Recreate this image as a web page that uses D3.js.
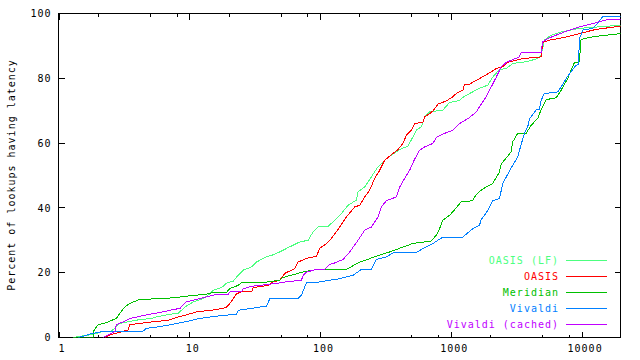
<!DOCTYPE html>
<html><head><meta charset="utf-8">
<script src="https://cdn.jsdelivr.net/npm/d3@7/dist/d3.min.js"></script>
<style>
html,body{margin:0;padding:0;background:#fff;}
svg text{font-family:"DejaVu Sans Mono","Liberation Mono",monospace;font-size:10px;letter-spacing:1px;}
</style></head><body>
<svg id="chart" width="640" height="360"></svg>
<script>
// ---------- data (latency, percent of lookups) ----------
const seriesNames = ["OASIS (LF)", "OASIS", "Meridian", "Vivaldi", "Vivaldi (cached)"];
const seriesColors = ["#4cff7f", "#ff0000", "#00c000", "#0080ff", "#c000ff"];

const oasisLF = [[1.295,0],[1.544,0.5],[1.786,0.9],[2.13,1.7],[2.54,2.0],[2.77,3.3],[2.94,4.3],[3.83,5.3],[5.13,5.9],[5.64,6.4],[7.12,7.2],[8.2,7.4],[9.27,9.4],[10.73,11.0],[12.79,12.0],[13.96,13.1],[15.25,14.6],[17.68,15.4],[19.3,16.8],[21.67,17.4],[23.66,19.2],[25.84,20.8],[29.95,21.8],[32.7,23.3],[37.8,24.7],[45.1,25.7],[50.7,26.7],[58.7,28.0],[70,29.5],[81,30.0],[88.4,32.6],[96.5,34.1],[115.1,34.3],[129.5,36.2],[145.7,38.3],[163.6,40.8],[189.7,42.4],[195.1,44.9],[219.4,46.5],[246.9,49.6],[277.2,52.7],[321.3,55.2],[371.7,57.0],[418.2,58.3],[469.6,59.0],[512.7,61.9],[544.4,64.0],[594.3,65.0],[629.8,68.1],[687.8,69.6],[868.7,70.2],[977.4,72.5],[1165,73.2],[1235,74.1],[1389,75.3],[1656,76.9],[1916,77.9],[2092,80.4],[2354,82.7],[2648,83.0],[2974,84.6],[3763,85.1],[4615,86.1],[4898,87.0],[5191,91.8],[5839,93.3],[6962,94.3],[9603,95.4],[13650,95.9],[20000,96.4]];

const oasis = [[2.26,0],[2.47,0.8],[2.7,1.2],[3.4,2.3],[3.51,3.9],[4.06,4.3],[5.13,4.8],[6.88,5.3],[8.0,6.2],[9.3,6.9],[11.39,7.9],[15.25,8.5],[18.18,9.0],[19.3,9.4],[20.45,10.5],[21.67,12.0],[23.0,13.5],[25.1,14.1],[29.95,14.1],[30.8,15.4],[40.1,16.1],[42.6,17.0],[49.2,17.7],[53.8,19.8],[64.1,21.3],[67.9,23.3],[78.7,24.4],[93.9,25.1],[99.5,27.5],[111.9,29.0],[118.6,30.0],[122.2,30.6],[141.4,34.1],[159.1,37.2],[184.1,40.3],[201,40.8],[219.4,43.4],[239.6,45.5],[261.6,49.1],[285.6,51.6],[311.8,54.7],[360.8,56.8],[393.9,58.0],[430.1,59.9],[456.5,62.4],[498.5,64.0],[528.3,66.0],[611.3,66.5],[629.8,68.1],[687.8,69.1],[728.8,69.9],[795.7,72.0],[922.3,73.0],[1036,74.3],[1100,75.3],[1235,76.3],[1272,78.2],[1389,78.2],[1656,79.9],[2034,82.0],[2222,83.0],[2494,83.6],[2724,84.9],[3545,86.1],[4898,86.6],[5038,91.0],[5667,91.8],[7161,92.5],[9603,93.8],[12880,95.1],[20000,96.1]];

const meridian = [[1.3,0],[1.84,0],[1.84,1.7],[1.985,3.8],[2.395,4.8],[2.77,5.9],[2.94,7.4],[3.21,9.4],[3.51,10.5],[4.18,11.8],[6.88,12.0],[7.12,12.2],[8.49,12.5],[9.77,12.8],[13.58,13.4],[15.25,13.9],[19.3,14.0],[20.45,15.1],[23.66,16.1],[25.1,17.0],[38.97,17.1],[49.2,17.7],[51.9,18.5],[58.7,19.1],[73.8,20.2],[83.4,20.6],[93.9,21.0],[159.1,21.0],[194.1,23.0],[261.6,24.9],[340.5,26.4],[510,29.0],[708.7,29.8],[773.5,31.6],[820,33.6],[868.7,36.2],[977.4,37.7],[1036,38.8],[1200,41.9],[1464,42.2],[1563,44.1],[1746,45.8],[2081,47.5],[2354,51.1],[2425,53.5],[2892,57.3],[2974,60.4],[3248,63.0],[3763,63.0],[4108,65.5],[4615,67.6],[4898,70.3],[5348,73.4],[6377,74.0],[6962,76.3],[7820,79.9],[8300,82.5],[8797,84.8],[9603,85.1],[9894,92.0],[12134,92.8],[15360,93.3],[20000,93.8]];

const vivaldi = [[1.414,0],[1.636,0.7],[1.786,1.2],[2.07,1.7],[2.86,2.0],[4.43,2.0],[4.7,2.8],[5.77,3.3],[7.29,4.0],[9.77,5.0],[12.07,5.9],[16.19,6.6],[23.0,7.2],[23.66,8.4],[29.95,9.0],[38.97,9.7],[41.3,12.0],[67.9,12.0],[72.1,13.1],[78.7,16.9],[93.9,17.0],[118.6,17.7],[133.4,17.9],[178.6,19.2],[207,21.0],[246.9,21.0],[269.5,24.1],[321.3,24.9],[360.8,26.1],[544.4,26.2],[611.3,27.5],[728.8,29.0],[868.7,31.0],[1235,31.0],[1349,32.3],[1472,33.6],[1656,34.7],[1707,36.4],[1863,38.4],[2092,42.2],[2354,42.9],[2494,47.5],[2724,50.4],[2974,53.2],[3248,55.7],[3447,59.6],[3652,63.0],[3870,65.0],[3988,67.4],[4486,70.2],[4755,70.4],[4898,73.2],[5191,75.3],[6558,75.8],[6962,77.3],[7603,79.9],[8300,82.0],[9064,84.0],[9487,84.2],[9603,92.3],[9894,93.3],[10175,94.9],[12134,95.4],[13249,96.9],[14464,99.0],[20000,99.2]];

const vivaldiCached = [[2.2,0],[2.4,0.8],[2.7,1.9],[2.77,4.0],[3.12,4.8],[3.51,5.9],[4.06,6.4],[4.84,7.1],[5.77,7.6],[7.12,8.4],[8.49,9.0],[9.49,11.0],[12.07,12.0],[15.25,13.1],[19.85,13.4],[20.45,14.1],[25.1,14.1],[25.84,15.0],[29.95,15.8],[46.5,16.7],[55.4,17.2],[72.1,17.7],[74.2,19.2],[78.7,20.2],[93.9,21.0],[108.6,21.0],[118.6,22.6],[125.7,22.8],[149.8,24.1],[168.6,26.4],[195.1,30.0],[219.4,33.1],[246.9,34.1],[277.2,37.2],[294.2,40.3],[321.3,42.2],[383,43.4],[405.9,46.4],[443.1,49.1],[483.8,51.6],[528.3,55.0],[576.9,57.8],[629.8,58.8],[728.8,59.9],[773.5,61.7],[868.7,62.8],[1036,64.0],[1165,66.0],[1389,67.9],[1563,69.6],[1656,71.2],[1863,74.3],[2034,77.3],[2222,80.3],[2425,83.5],[2648,84.9],[3345,86.6],[3447,88.0],[4898,88.0],[5038,91.3],[5667,92.5],[7379,94.3],[9894,96.0],[12134,96.9],[15360,98.0],[20000,98.1]];

const seriesData = [oasisLF, oasis, meridian, vivaldi, vivaldiCached];

const xTickValues = [1, 10, 100, 1000, 10000];
const xTickLabels = ["1", "10", "100", "1000", "10000"];
const xMinorTicks = [2, 5, 8, 20, 50, 80, 200, 500, 800, 2000, 5000, 8000];
const yTickValues = [0, 20, 40, 60, 80, 100];
const yTickLabels = ["0", "20", "40", "60", "80", "100"];
const yTitle = "Percent of lookups having latency";

// ---------- drawing ----------
const svg = d3.select("#chart");
const L = 58.5, R = 620.5, T = 13.5, B = 337.5;
const x = d3.scaleLog().domain([1, 20000]).range([L, 621]);
const y = d3.scaleLinear().domain([0, 100]).range([B, T]);

svg.append("rect").attr("width", 640).attr("height", 360).attr("fill", "#fff");

const g = svg.append("g").attr("shape-rendering", "crispEdges");

// ticks
xTickValues.forEach(v => {
  const px = Math.round(x(v)) + 0.5;
  g.append("line").attr("x1", px).attr("x2", px).attr("y1", B).attr("y2", B - 6).attr("stroke", "#000");
  g.append("line").attr("x1", px).attr("x2", px).attr("y1", T).attr("y2", T + 6).attr("stroke", "#000");
});
xMinorTicks.forEach(v => {
  const px = Math.round(x(v)) + 0.5;
  g.append("line").attr("x1", px).attr("x2", px).attr("y1", B).attr("y2", B - 3).attr("stroke", "#000");
  g.append("line").attr("x1", px).attr("x2", px).attr("y1", T).attr("y2", T + 3).attr("stroke", "#000");
});
yTickValues.forEach(v => {
  const py = Math.round(y(v) - 0.5) + 0.5;
  g.append("line").attr("x1", L).attr("x2", L + 6).attr("y1", py).attr("y2", py).attr("stroke", "#000");
  g.append("line").attr("x1", R).attr("x2", R - 6).attr("y1", py).attr("y2", py).attr("stroke", "#000");
});

// frame
g.append("rect").attr("x", L).attr("y", T).attr("width", R - L).attr("height", B - T)
  .attr("fill", "none").attr("stroke", "#000");

// tick labels
xTickValues.forEach((v, i) => {
  svg.append("text").attr("x", x(v) + 3.5).attr("y", 352).attr("text-anchor", "middle")
    .attr("fill", "#000").text(xTickLabels[i]);
});
yTickValues.forEach((v, i) => {
  svg.append("text").attr("x", 51.5).attr("y", y(v) + 3.6).attr("text-anchor", "end")
    .attr("fill", "#000").text(yTickLabels[i]);
});

// y title
svg.append("text").attr("transform", "translate(14.5,175) rotate(-90)")
  .attr("text-anchor", "middle").attr("fill", "#000").text(yTitle);

// curves
const line = d3.line().x(d => x(d[0])).y(d => y(d[1])).curve(d3.curveLinear);
const clip = svg.append("clipPath").attr("id", "pc").append("rect")
  .attr("x", L).attr("y", T - 1).attr("width", R - L).attr("height", B - T + 1);
seriesData.forEach((data, i) => {
  g.append("path").datum(data).attr("d", line).attr("fill", "none")
    .attr("stroke", seriesColors[i]).attr("stroke-width", 1)
    .attr("clip-path", "url(#pc)");
});

// legend
seriesNames.forEach((name, i) => {
  const ly = 260.5 + i * 16;
  g.append("line").attr("x1", 566).attr("x2", 607).attr("y1", ly).attr("y2", ly)
    .attr("stroke", seriesColors[i]);
  svg.append("text").attr("x", 559).attr("y", ly + 3.6).attr("text-anchor", "end")
    .attr("fill", seriesColors[i]).text(name);
});
</script>
</body></html>
